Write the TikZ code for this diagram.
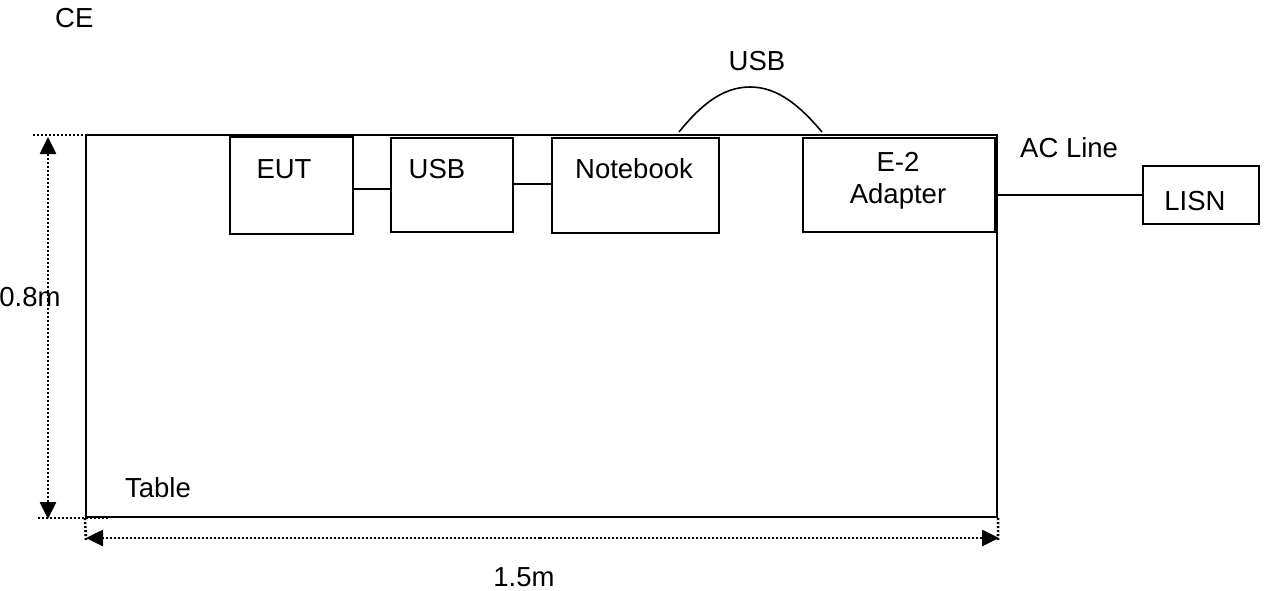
\documentclass[tikz,border=0pt]{standalone}
\usepackage{fontspec}
\setmainfont{Liberation Sans}
\usetikzlibrary{arrows.meta}
\begin{document}
\begin{tikzpicture}[x=1pt,y=-1pt,
  box/.style={draw,line width=2.2pt,rectangle,inner sep=0pt},
  lbl/.style={inner sep=0pt,font=\fontsize{27.5}{32}\selectfont},
  wire/.style={line width=1.6pt},
  dim/.style={line width=2.6pt,dash pattern=on 2pt off 2pt},
  dimarrow/.style={dim,-{Triangle[length=17pt,width=16pt]}}]
\useasboundingbox (0,0) rectangle (1268,591);
% table
\node[box,minimum width=911pt,minimum height=382pt] (table) at (541.5,326) {};
% boxes
\node[box,minimum width=123pt,minimum height=97pt] (eut) at (291.5,185.5) {};
\node[box,minimum width=122pt,minimum height=94pt] (usb) at (452,185) {};
\node[box,minimum width=167pt,minimum height=95pt] (nb) at (635.5,185.5) {};
\node[box,minimum width=192pt,minimum height=94pt] (e2) at (899,185) {};
\node[box,minimum width=116pt,minimum height=58pt] (lisn) at (1201,195) {};
% texts
\node[lbl] (teut) at (284,169) {EUT};
\node[lbl] (tusb) at (437,169) {USB};
\node[lbl] (tnb) at (634,169) {Notebook};
\node[lbl] (te2) at (898,162) {E-2};
\node[lbl] (tad) at (898,196) {Adapter};
\node[lbl] (tlisn) at (1195,201) {LISN};
\node[lbl,anchor=west] (tac) at (1020,148) {AC Line};
\node[lbl] (tusbc) at (757,61) {USB};
\node[lbl,anchor=west] (tce) at (55,18) {CE};
\node[lbl] (ttab) at (158,488) {Table};
\node[lbl] (th) at (30,297) {0.8m};
\node[lbl] (tw) at (524,577) {1.5m};
% connectors
\draw[wire] (eut.east |- 0,189) -- (usb.west |- 0,189);
\draw[wire] (usb.east |- 0,184) -- (nb.west |- 0,184);
\draw[wire] (e2.east |- lisn.west) -- (lisn.west);
\coordinate (ua) at (679,132);
\coordinate (ub) at (822,132);
\coordinate (up) at (750,87);
\draw[wire] (ua) .. controls (700,106) and (722,87) .. (up)
  .. controls (778,87) and (800,106) .. (ub);
% dimensions
\coordinate (tl1) at (33,135);
\coordinate (tl2) at (104,135);
\coordinate (bl1) at (38,518);
\coordinate (bl2) at (108,518);
\coordinate (va) at (48,519);
\coordinate (vb) at (48,137);
\coordinate (lb) at (86,540);
\coordinate (rb) at (998,540);
\draw[dim] (tl1) -- (tl2);
\draw[dim] (bl1) -- (bl2);
\draw[dimarrow] (48,300) -- (vb);
\draw[dimarrow] (48,300) -- (va);
\draw[dim] (table.south west) -- (lb);
\draw[dim] (table.south east) -- (rb);
\draw[dimarrow] (540,538) -- (86,538);
\draw[dimarrow] (540,538) -- (999,538);
\end{tikzpicture}
\end{document}
